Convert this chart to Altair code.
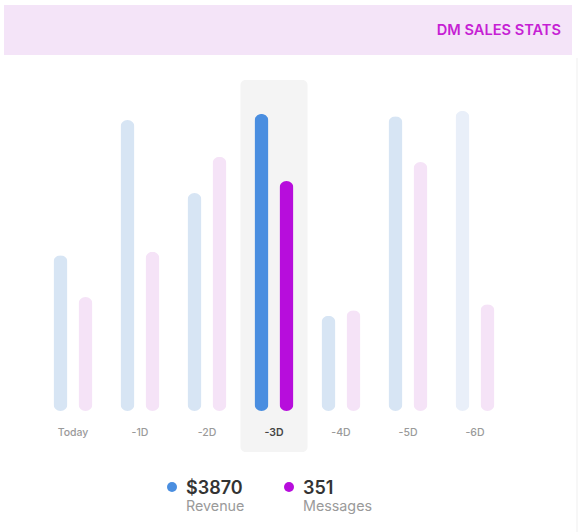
import altair as alt
import pandas as pd

days = ["Today", "-1D", "-2D", "-3D", "-4D", "-5D", "-6D"]
revenue = [2030, 3790, 2840, 3870, 1240, 3840, 3910]
messages = [174, 243, 388, 351, 154, 380, 163]
selected = "-3D"
title_text = "DM SALES STATS"

rev_colors = ["#d7e5f4", "#d7e5f4", "#d7e5f4", "#4a8ee0", "#d7e5f4", "#d7e5f4", "#e9eff9"]
msg_colors = ["#f5e3f7", "#f5e3f7", "#f5e3f7", "#b70ddc", "#f5e3f7", "#f5e3f7", "#f5e3f7"]

df = pd.DataFrame({"day": days, "revenue": revenue, "messages": messages})
sel_idx = days.index(selected)
one = pd.DataFrame({"a": [0]})

FONT = "Inter"
xscale = alt.Scale(domain=days, range=[39.5, 508.5], paddingInner=0, paddingOuter=0)
X = alt.X("day:N", scale=xscale, axis=None, sort=days)

header = alt.Chart(one).mark_rect(color="#f4e4f8").encode(
    x=alt.value(4), x2=alt.value(572), y=alt.value(5), y2=alt.value(55))
title = alt.Chart(one).mark_text(
    text=title_text, align="right", baseline="middle", font=FONT, fontSize=14.6,
    fontWeight=600, color="#c61fd4").encode(
    x=alt.value(561), y=alt.value(31))
border = alt.Chart(one).mark_rule(color="#efefef", strokeWidth=1).encode(
    x=alt.value(577), y=alt.value(58), y2=alt.value(532))

hl = alt.Chart(df).transform_filter(alt.datum.day == selected).mark_bar(
    color="#f4f4f4", cornerRadius=5).encode(
    x=X, y=alt.value(80), y2=alt.value(452))

rev = alt.Chart(df).mark_bar(width=14, cornerRadius=7, xOffset=-12.5).encode(
    x=X,
    y=alt.Y("revenue:Q", scale=alt.Scale(domain=[0, 4000], range=[411, 104]), axis=None),
    color=alt.Color("day:N", scale=alt.Scale(domain=days, range=rev_colors), legend=None),
)
msg = alt.Chart(df).mark_bar(width=14, cornerRadius=7, xOffset=12.5).encode(
    x=X,
    y=alt.Y("messages:Q", scale=alt.Scale(domain=[0, 400], range=[411, 149]), axis=None),
    color=alt.Color("day:N", scale=alt.Scale(domain=days, range=msg_colors), legend=None),
)

labels = alt.Chart(df).transform_filter(alt.datum.day != selected).mark_text(
    font=FONT, fontSize=10.5, baseline="middle", color="#9a9a9a", fontWeight=500).encode(
    x=X, y=alt.value(433), text="day:N")
labels_sel = alt.Chart(df).transform_filter(alt.datum.day == selected).mark_text(
    font=FONT, fontSize=10.5, baseline="middle", color="#444444", fontWeight=600).encode(
    x=X, y=alt.value(433), text="day:N")

leg = pd.DataFrame({
    "dx": [172, 289],
    "tx": [186, 303],
    "big": ["$" + str(revenue[sel_idx]), str(messages[sel_idx])],
    "small": ["Revenue", "Messages"],
    "col": ["#4a8ee0", "#b70ddc"],
})
dots = alt.Chart(leg).mark_circle(size=100, opacity=1).encode(
    x=alt.X("dx:Q", scale=None), y=alt.value(487), color=alt.Color("col:N", scale=None))
bigt = alt.Chart(leg).mark_text(align="left", baseline="middle", font=FONT, fontSize=18,
                                fontWeight=600, color="#333333").encode(
    x=alt.X("tx:Q", scale=None), y=alt.value(489), text="big:N")
smallt = alt.Chart(leg).mark_text(align="left", baseline="middle", font=FONT, fontSize=14.3,
                                  color="#9a9a9a").encode(
    x=alt.X("tx:Q", scale=None), y=alt.value(507), text="small:N")

chart = alt.layer(header, title, border, hl, rev, msg, labels, labels_sel, dots, bigt, smallt).resolve_scale(
    y="independent", color="independent", x="independent"
).properties(
    width=578, height=532, autosize=alt.AutoSizeParams(type="none"), padding=0,
    background="white"
).configure_view(stroke=None)

chart.save("out.html", embed_options={"renderer": "svg", "actions": False})
